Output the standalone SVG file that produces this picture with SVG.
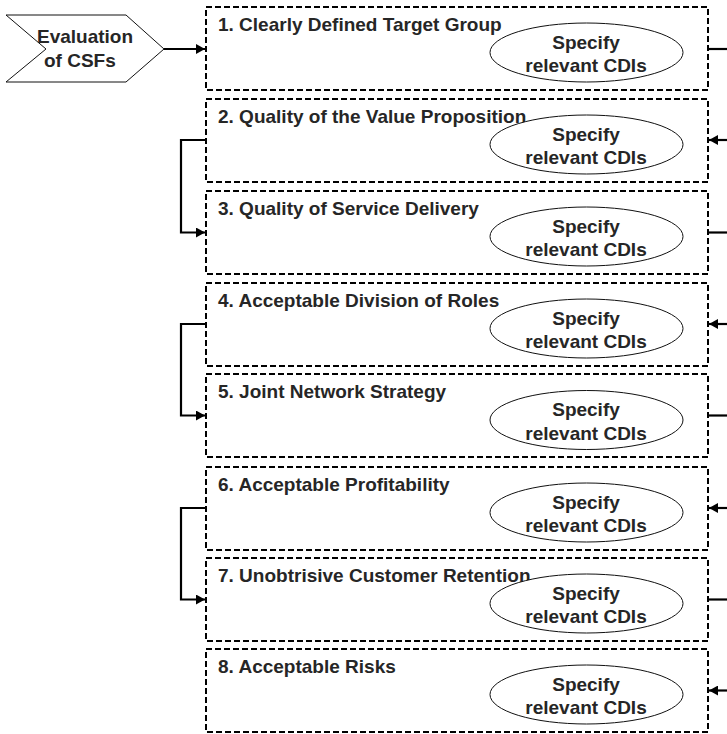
<svg xmlns="http://www.w3.org/2000/svg" width="727" height="734" viewBox="0 0 727 734">
  <style>
    .box { fill: none; stroke: #000; stroke-width: 2; stroke-dasharray: 6 3; }
    .cdi { fill: #fff; stroke: #111; stroke-width: 1; }
    .title { font-family: "Liberation Sans", Arial, sans-serif; font-weight: bold; font-size: 19px; fill: #262626; }
    .label { font-family: "Liberation Sans", Arial, sans-serif; font-weight: bold; font-size: 19px; fill: #262626; text-anchor: middle; }
    .conn { fill: none; stroke: #000; stroke-width: 2.2; }
  </style>
  <defs>
    <marker id="arrow" markerUnits="userSpaceOnUse" markerWidth="9" markerHeight="10" refX="9" refY="5" orient="auto">
      <path d="M0,0 L9,5 L0,10 z" fill="#000"/>
    </marker>
  </defs>
  <rect width="727" height="734" fill="#fff"/>

  <!-- start chevron -->
  <g id="evaluation">
    <polygon points="6,15 126,15 164,49 126,82 6,82 46,49" fill="#fff" stroke="#111" stroke-width="1"/>
    <text class="title" x="37" y="43">Evaluation</text>
    <text class="title" x="44" y="67">of CSFs</text>
  </g>

  <!-- CSF boxes -->
  <g id="csf1">
    <rect class="box" x="206" y="7" width="502" height="83"/>
    <text class="title" x="218" y="31">1. Clearly Defined Target Group</text>
    <ellipse class="cdi" cx="586.5" cy="52.5" rx="96.5" ry="29.5"/>
    <text class="label" x="586" y="48.5">Specify</text>
    <text class="label" x="586" y="72">relevant CDIs</text>
  </g>
  <g id="csf2">
    <rect class="box" x="206" y="99" width="502" height="83"/>
    <text class="title" x="218" y="123">2. Quality of the Value Proposition</text>
    <ellipse class="cdi" cx="586.5" cy="144.5" rx="96.5" ry="29.5"/>
    <text class="label" x="586" y="140.5">Specify</text>
    <text class="label" x="586" y="164">relevant CDIs</text>
  </g>
  <g id="csf3">
    <rect class="box" x="206" y="191" width="502" height="83"/>
    <text class="title" x="218" y="215">3. Quality of Service Delivery</text>
    <ellipse class="cdi" cx="586.5" cy="236.5" rx="96.5" ry="29.5"/>
    <text class="label" x="586" y="232.5">Specify</text>
    <text class="label" x="586" y="256">relevant CDIs</text>
  </g>
  <g id="csf4">
    <rect class="box" x="206" y="283" width="502" height="83"/>
    <text class="title" x="218" y="307">4. Acceptable Division of Roles</text>
    <ellipse class="cdi" cx="586.5" cy="328.5" rx="96.5" ry="29.5"/>
    <text class="label" x="586" y="324.5">Specify</text>
    <text class="label" x="586" y="348">relevant CDIs</text>
  </g>
  <g id="csf5">
    <rect class="box" x="206" y="374" width="502" height="83"/>
    <text class="title" x="218" y="398">5. Joint Network Strategy</text>
    <ellipse class="cdi" cx="586.5" cy="420" rx="96.5" ry="29.5"/>
    <text class="label" x="586" y="416">Specify</text>
    <text class="label" x="586" y="439.5">relevant CDIs</text>
  </g>
  <g id="csf6">
    <rect class="box" x="206" y="467" width="502" height="83"/>
    <text class="title" x="218" y="491">6. Acceptable Profitability</text>
    <ellipse class="cdi" cx="586.5" cy="512.5" rx="96.5" ry="29.5"/>
    <text class="label" x="586" y="508.5">Specify</text>
    <text class="label" x="586" y="532">relevant CDIs</text>
  </g>
  <g id="csf7">
    <rect class="box" x="206" y="558" width="502" height="83"/>
    <text class="title" x="218" y="582">7. Unobtrisive Customer Retention</text>
    <ellipse class="cdi" cx="586.5" cy="603.5" rx="96.5" ry="29.5"/>
    <text class="label" x="586" y="599.5">Specify</text>
    <text class="label" x="586" y="623">relevant CDIs</text>
  </g>
  <g id="csf8">
    <rect class="box" x="206" y="649" width="502" height="83"/>
    <text class="title" x="218" y="673">8. Acceptable Risks</text>
    <ellipse class="cdi" cx="586.5" cy="694.5" rx="96.5" ry="29.5"/>
    <text class="label" x="586" y="690.5">Specify</text>
    <text class="label" x="586" y="714">relevant CDIs</text>
  </g>

  <!-- connectors -->
  <g id="connectors">
    <path class="conn" d="M164,49 H205" marker-end="url(#arrow)"/>
    <!-- left brackets -->
    <path class="conn" d="M206,140 H181 V232.5 H205" marker-end="url(#arrow)"/>
    <path class="conn" d="M206,324 H181 V415.5 H205" marker-end="url(#arrow)"/>
    <path class="conn" d="M206,508 H181 V599.5 H205" marker-end="url(#arrow)"/>
    <!-- right side: outgoing -->
    <path class="conn" d="M708,49 H730"/>
    <path class="conn" d="M708,232.5 H730"/>
    <path class="conn" d="M708,415.5 H730"/>
    <path class="conn" d="M708,599.5 H730"/>
    <!-- right side: incoming -->
    <path class="conn" d="M730,140 H709" marker-end="url(#arrow)"/>
    <path class="conn" d="M730,324 H709" marker-end="url(#arrow)"/>
    <path class="conn" d="M730,508 H709" marker-end="url(#arrow)"/>
    <path class="conn" d="M730,690.5 H709" marker-end="url(#arrow)"/>
  </g>
</svg>
